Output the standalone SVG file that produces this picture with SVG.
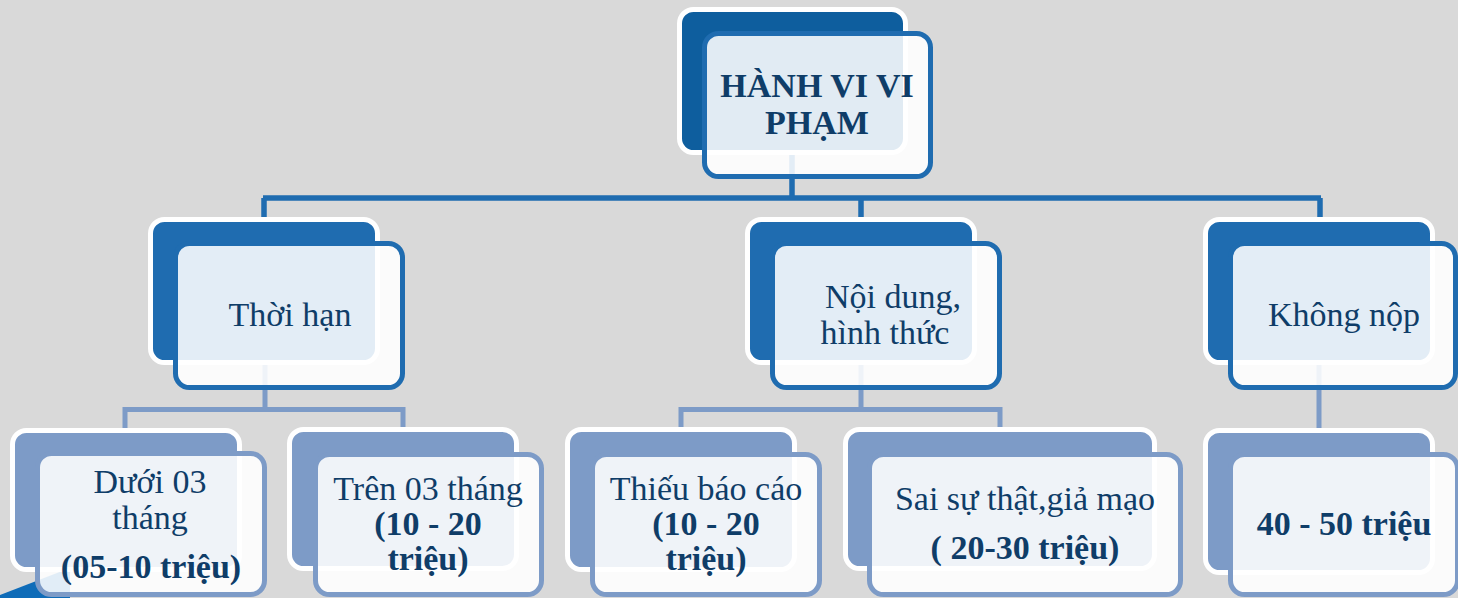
<svg xmlns="http://www.w3.org/2000/svg" width="1458" height="598" viewBox="0 0 1458 598">
<style>
.bg{fill:#D9D9D9}
.back{stroke:#FFFFFF;stroke-width:5}
.b0{fill:#0E5E9E}
.b1{fill:#1F6CB0}
.b2{fill:#7D9BC7}
.front{fill:#FFFFFF;fill-opacity:0.88;stroke-width:5}
.f1{stroke:#1F6CB0}
.f2{stroke:#7D9BC7}
.c1{stroke:#1F6CB0;stroke-width:5.5;fill:none}
.c2{stroke:#7D9BC7;stroke-width:5;fill:none}
text{font-family:"Liberation Serif","Times New Roman",serif;fill:#0F3D68;text-anchor:middle;font-size:34px}
.bold{font-weight:bold}
</style>
<rect class="bg" x="0" y="0" width="1458" height="598"/>
<polygon points="0,598 0,595 70,568 70,598" fill="#0F6CB8"/>
<g id="connectors">
<path class="c1" d="M792,152 V198 M263,198 H1321 M264,198 V220 M861,198 V220 M1320,198 V220"/>
<path class="c2" d="M265,362 V409.5 M125,409.5 H404 M125,407 V431 M403,407 V431"/>
<path class="c2" d="M861,362 V409.5 M681,409.5 H1001 M681,407 V431 M1000,407 V431"/>
<path class="c2" d="M1319,362 V431"/>
</g>
<g id="node-top">
<rect class="back b0" x="679.5" y="9.5" width="226" height="143" rx="14"/>
<rect class="front f1" x="704.5" y="33.5" width="226" height="143" rx="14"/>
<text class="bold" x="817" y="97">HÀNH VI VI</text>
<text class="bold" x="817" y="134">PHẠM</text>
</g>
<g id="node-thoihan">
<rect class="back b1" x="150.5" y="219.5" width="227" height="143" rx="14"/>
<rect class="front f1" x="175.5" y="243.5" width="227" height="144" rx="14"/>
<text x="290" y="326">Thời hạn</text>
</g>
<g id="node-noidung">
<rect class="back b1" x="747.5" y="219.5" width="227" height="143" rx="14"/>
<rect class="front f1" x="772.5" y="243.5" width="227" height="144" rx="14"/>
<text x="893" y="308">Nội dung,</text>
<text x="885" y="344">hình thức</text>
</g>
<g id="node-khongnop">
<rect class="back b1" x="1205.5" y="219.5" width="227" height="143" rx="14"/>
<rect class="front f1" x="1230.5" y="243.5" width="225" height="144" rx="14"/>
<text x="1344" y="326">Không nộp</text>
</g>
<g id="node-duoi">
<rect class="back b2" x="12.5" y="430.5" width="227" height="139" rx="14"/>
<rect class="front f2" x="37.5" y="453.5" width="227" height="141" rx="14"/>
<text x="150" y="493">Dưới 03</text>
<text x="150" y="529">tháng</text>
<text class="bold" x="151" y="578">(05-10 triệu)</text>
</g>
<g id="node-tren">
<rect class="back b2" x="289.5" y="429.5" width="227" height="139" rx="14"/>
<rect class="front f2" x="315.5" y="454.5" width="226" height="140" rx="14"/>
<text x="428" y="500">Trên 03 tháng</text>
<text class="bold" x="428" y="535">(10 - 20</text>
<text class="bold" x="428" y="570">triệu)</text>
</g>
<g id="node-thieu">
<rect class="back b2" x="567.5" y="429.5" width="227" height="140" rx="14"/>
<rect class="front f2" x="592.5" y="454.5" width="227" height="140" rx="14"/>
<text x="706" y="500">Thiếu báo cáo</text>
<text class="bold" x="706" y="535">(10 - 20</text>
<text class="bold" x="706" y="570">triệu)</text>
</g>
<g id="node-sai">
<rect class="back b2" x="845.5" y="429.5" width="309" height="139" rx="14"/>
<rect class="front f2" x="869.5" y="454.5" width="311" height="140" rx="14"/>
<text x="1025" y="510">Sai sự thật,giả mạo</text>
<text class="bold" x="1025" y="559">( 20-30 triệu)</text>
</g>
<g id="node-4050">
<rect class="back b2" x="1205.5" y="430.5" width="227" height="142" rx="14"/>
<rect class="front f2" x="1230.5" y="454.5" width="227" height="140" rx="14"/>
<text class="bold" x="1344" y="535">40 - 50 triệu</text>
</g>
</svg>
